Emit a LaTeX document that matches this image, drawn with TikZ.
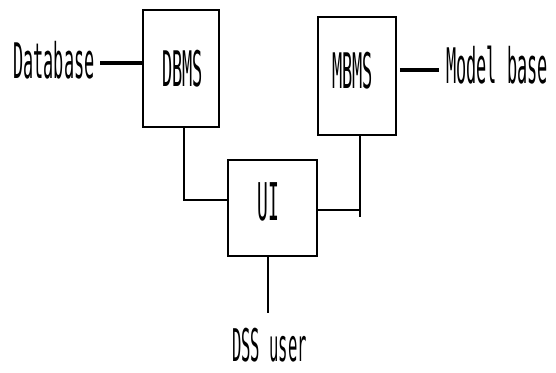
\documentclass[tikz,border=0pt]{standalone}
\usepackage{fontspec}
\newfontfamily\condmono[FakeStretch=0.345]{DejaVu Sans Mono}
\begin{document}
\begin{tikzpicture}[x=1pt,y=-1pt,
  box/.style={draw,line width=1.6pt,inner sep=0pt},
  lbl/.style={inner sep=0pt,anchor=base west,font=\condmono\fontsize{49}{49}\selectfont},
  conn/.style={line width=1.6pt},
  thick conn/.style={line width=4.5pt}]
\useasboundingbox[fill=white] (0,0) rectangle (556,372);
% boxes
\node[box,minimum width=76pt,minimum height=117pt] (dbms) at (181,68.5) {};
\node[box,minimum width=78pt,minimum height=118pt] (mbms) at (357,76) {};
\node[box,minimum width=89pt,minimum height=96pt] (ui) at (272.5,208) {};
% texts
\node[lbl] (tdbms) at (162,86) {DBMS};
\node[lbl] (tmbms) at (332,88) {MBMS};
\node[lbl,font=\condmono\fontsize{52}{52}\selectfont] (tui) at (257,220) {UI};
\node[lbl,font=\condmono\fontsize{45}{45}\selectfont] (tuser) at (232,361) {DSS user};
\node[lbl] (tdb) at (13,78) {Database};
\node[lbl] (tmb) at (446,83) {Model base};
% connector points
\coordinate (j1) at (184,200);
\coordinate (j2) at (360,217);
\coordinate (j3) at (360,210);
\coordinate (u) at (268,313);
\coordinate (dbl) at (100,63);
\coordinate (mbl) at (439,70);
% connectors
\draw[conn] (dbms.south -| j1) |- (ui.west |- j1);
\draw[conn] (mbms.south -| j2) -- (j2);
\draw[conn] (ui.east |- j3) -- (j3);
\draw[conn] (ui.south -| u) -- (u);
\draw[thick conn] (dbl) -- (dbms.west |- dbl);
\draw[thick conn] (mbms.east |- mbl) ++(3,0) -- (mbl);
\end{tikzpicture}
\end{document}
